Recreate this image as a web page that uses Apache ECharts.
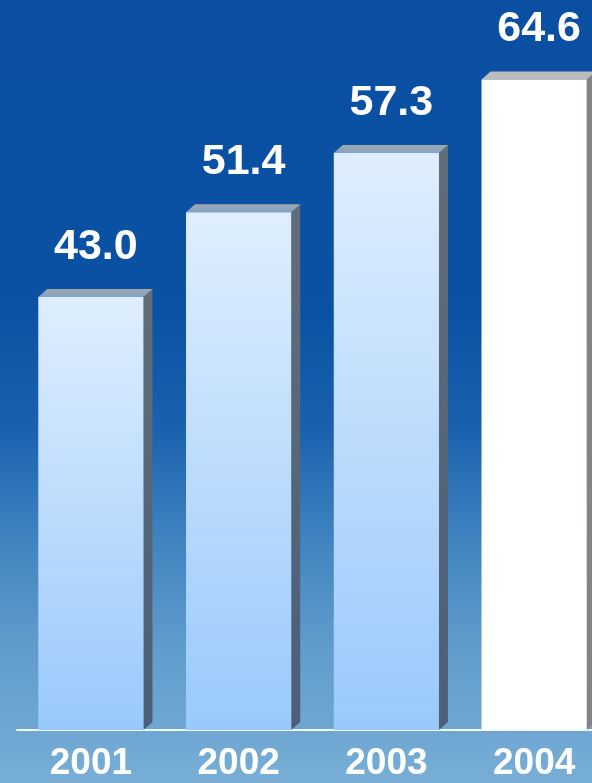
<!DOCTYPE html>
<html>
<head>
<meta charset="utf-8">
<script src="https://cdn.jsdelivr.net/npm/echarts@6/dist/echarts.min.js"></script>
<style>
html,body{margin:0;padding:0;overflow:hidden;width:592px;height:783px;}
#chart{width:610px;height:783px;
background:linear-gradient(to bottom,#0a4fa1 0%,#0b52a4 40%,#1a62ae 55%,#3d82bf 68%,#5f9bcc 82%,#78aed6 100%);}
</style>
</head>
<body>
<div id="chart"></div>
<script>
const years = ['2001', '2002', '2003', '2004'];
const values = [43.0, 51.4, 57.3, 64.6];
const highlight = [false, false, false, true];

const chart = echarts.init(document.getElementById('chart'), null, {renderer: 'canvas'});
const DX = 9, DY = 8;

function renderItem(params, api) {
  const idx = api.value(0);
  const v = api.value(1);
  const top = api.coord([idx, v]);
  const base = api.coord([idx, 0]);
  const band = api.size([1, 0])[0];
  const w = band * 0.712;
  const x0 = top[0] - w / 2, x1 = top[0] + w / 2;
  const yT = top[1], yB = base[1];
  const hi = highlight[params.dataIndex];
  const front = hi ? '#ffffff' : {
    type: 'linear', x: 0, y: 0, x2: 0, y2: 1,
    colorStops: [{offset: 0, color: '#dfeefe'}, {offset: 1, color: '#99c9fb'}]
  };
  const side = hi ? '#848484' : {
    type: 'linear', x: 0, y: 0, x2: 0, y2: 1,
    colorStops: [{offset: 0, color: '#626d7a'}, {offset: 1, color: '#4b5f78'}]
  };
  const topFace = hi ? '#bcbcbc' : {
    type: 'linear', x: 0, y: 0, x2: 0, y2: 1,
    colorStops: [{offset: 0, color: '#a2a8ae'}, {offset: 1, color: '#83a2c8'}]
  };
  return {
    type: 'group',
    children: [
      {type: 'polygon', shape: {points: [[x1, yT], [x1 + DX, yT - DY], [x1 + DX, yB - DY], [x1, yB]]}, style: {fill: side}},
      {type: 'polygon', shape: {points: [[x0, yT], [x0 + DX, yT - DY], [x1 + DX, yT - DY], [x1, yT]]}, style: {fill: topFace}},
      {type: 'rect', shape: {x: x0, y: yT, width: w, height: yB - yT}, style: {fill: front}},
      {type: 'text', x: top[0] + 5, y: yT - 50, style: {
        text: v.toFixed(1), fill: '#ffffff', fontSize: 43, fontWeight: 'bold',
        fontFamily: 'Liberation Sans, Arial, sans-serif', align: 'center', verticalAlign: 'middle'
      }}
    ]
  };
}

chart.setOption({
  animation: false,
  backgroundColor: 'transparent',
  grid: {left: 17, right: 2, top: 25, bottom: 51, containLabel: false},
  xAxis: {
    type: 'category', data: years,
    axisLine: {show: true, lineStyle: {color: '#f2f8ff', width: 2}},
    axisTick: {show: false},
    axisLabel: {color: '#ffffff', fontSize: 37, fontWeight: 'bold', fontFamily: 'Liberation Sans, Arial, sans-serif',
      margin: 32, verticalAlign: 'middle'},
    splitLine: {show: false}
  },
  yAxis: {type: 'value', min: -0.2, max: 70, show: false, splitLine: {show: false}},
  series: [{
    type: 'custom',
    renderItem: renderItem,
    clip: false,
    data: values.map((v, i) => [i, v])
  }]
});
</script>
</body>
</html>
